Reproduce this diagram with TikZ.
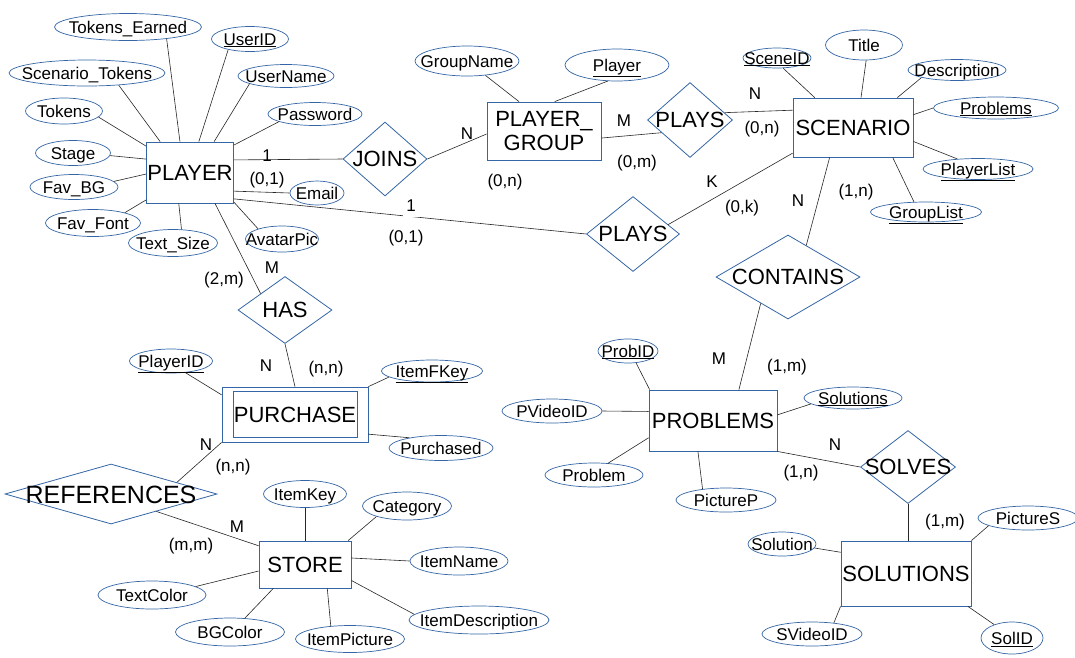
\documentclass[tikz,border=0pt]{standalone}
\usepackage{fontspec}
\setmainfont{Liberation Sans}
\usetikzlibrary{shapes.geometric}
\definecolor{bl}{RGB}{52,101,164}
\newcommand{\zt}[1]{\makebox[0pt]{\raisebox{-0.36em}[0pt][0pt]{#1}}}
\tikzset{
  ent/.style={rectangle, draw=bl, line width=0.8pt, inner sep=0pt, align=center, font=\fontsize{22}{24}\selectfont},
  rel/.style={diamond, draw=bl, line width=0.8pt, inner sep=0pt, font=\fontsize{22}{24}\selectfont},
  attr/.style={ellipse, draw=bl, line width=0.7pt, inner sep=0pt, font=\fontsize{17}{19}\selectfont},
  lab/.style={inner sep=0.5pt, font=\fontsize{17}{19}\selectfont},
  conn/.style={draw=black!85, line width=0.6pt}
}
\begin{document}
\begin{tikzpicture}[x=1pt,y=-1pt]
\useasboundingbox (0,0) rectangle (1075,657);
% ---------- entities ----------
\node[ent, minimum width=87, minimum height=61] (player) at (190,172.5) {PLAYER};
\node[ent, minimum width=114, minimum height=58] (pg) at (544,131) {PLAYER\_\\GROUP};
\node[ent, minimum width=120, minimum height=59] (scen) at (853,127.5) {SCENARIO};
\node[ent, minimum width=128, minimum height=61] (prob) at (713,420.5) {PROBLEMS};
\node[ent, minimum width=130, minimum height=65] (sol) at (906,573.5) {SOLUTIONS};
\node[ent, minimum width=146, minimum height=55] (pur) at (295,414.5) {};
\node[ent, minimum width=124, minimum height=46] (purin) at (295,414.5) {PURCHASE};
\node[ent, minimum width=92, minimum height=47] (store) at (305,564.5) {STORE};
% ---------- relationships ----------
\node[rel, minimum width=84, minimum height=74] (joins) at (385,159) {\zt{JOINS}};
\node[rel, minimum width=85, minimum height=75] (plays1) at (690,120) {\zt{PLAYS}};
\node[rel, minimum width=93, minimum height=75] (plays2) at (633,234) {\zt{PLAYS}};
\node[rel, minimum width=144, minimum height=84] (contains) at (788,277) {\zt{CONTAINS}};
\node[rel, minimum width=95, minimum height=73] (solves) at (908,467) {\zt{SOLVES}};
\node[rel, minimum width=94, minimum height=67] (has) at (285,310) {\zt{HAS}};
\node[rel, minimum width=212, minimum height=60, font=\fontsize{25}{27}\selectfont] (refs) at (111,494) {\zt{REFERENCES}};
% ---------- PLAYER attributes ----------
\node[attr, minimum width=147, minimum height=27] (te) at (128,27) {\zt{Tokens\_Earned}};
\node[attr, minimum width=77, minimum height=25] (uid) at (250,39) {\zt{\underline{UserID}}};
\node[attr, minimum width=156, minimum height=26] (st) at (87,73) {\zt{Scenario\_Tokens}};
\node[attr, minimum width=96, minimum height=23] (un) at (286,76) {\zt{UserName}};
\node[attr, minimum width=77, minimum height=26] (tok) at (64,111) {\zt{Tokens}};
\node[attr, minimum width=94, minimum height=23] (pw) at (315,114) {\zt{Password}};
\node[attr, minimum width=75, minimum height=25] (stage) at (73,153) {\zt{Stage}};
\node[attr, minimum width=88, minimum height=25] (fbg) at (74,187) {\zt{Fav\_BG}};
\node[attr, minimum width=95, minimum height=27] (ff) at (93,223) {\zt{Fav\_Font}};
\node[attr, minimum width=89, minimum height=27] (ts) at (173,243) {\zt{Text\_Size}};
\node[attr, minimum width=54, minimum height=24] (email) at (317,193) {\zt{Email}};
\node[attr, minimum width=73, minimum height=26] (ap) at (282,239) {\zt{AvatarPic}};
\draw[conn] (te.-17) -- (player.108);
\draw[conn] (uid.206) -- (player.74);
\draw[conn] (st.-21) -- (player.134);
\draw[conn] (un.192) -- (player.52);
\draw[conn] (tok.-10) -- (player.149);
\draw[conn] (pw.192) -- (player.32);
\draw[conn] (stage.-4) -- (player.163);
\draw[conn] (fbg.8) -- (player.182);
\draw[conn] (ff.18) -- (player.212);
\draw[conn] (ts.58) -- (player.250);
\draw[conn] (player.-23) -- (email.west);
\draw[conn] (ap.157) -- (player.-34);
% ---------- PLAYER_GROUP attributes ----------
\node[attr, minimum width=104, minimum height=30] (gn) at (467,61) {\zt{GroupName}};
\node[attr, minimum width=104, minimum height=32] (pl) at (617,65) {\zt{\underline{Player}}};
\draw[conn] (gn) -- (pg.north west -| 519,0);
\draw[conn] (pl.240) -- (pg.70);
% ---------- SCENARIO attributes ----------
\node[attr, minimum width=68, minimum height=20] (sid) at (777,58) {\zt{\underline{SceneID}}};
\node[attr, minimum width=77, minimum height=30] (title) at (864,45) {\zt{Title}};
\node[attr, minimum width=98, minimum height=21] (desc) at (957,70) {\zt{Description}};
\node[attr, minimum width=125, minimum height=22] (probs) at (996,108) {\zt{\underline{Problems}}};
\node[attr, minimum width=110, minimum height=21] (plist) at (978,169) {\zt{\underline{PlayerList}}};
\node[attr, minimum width=111, minimum height=20] (glist) at (926,212) {\zt{\underline{GroupList}}};
\draw[conn] (sid.-59) -- (scen.142);
\draw[conn] (title.-82) -- (scen.75);
\draw[conn] (desc.192) -- (scen.34);
\draw[conn] (probs.west) -- (scen.12);
\draw[conn] (plist.154) -- (scen.-13);
\draw[conn] (glist.140) -- (scen.-37);
% ---------- PROBLEMS attributes ----------
\node[attr, minimum width=60, minimum height=24] (pid) at (628,351) {\zt{\underline{ProbID}}};
\node[attr, minimum width=100, minimum height=24] (pvid) at (552,411) {\zt{PVideoID}};
\node[attr, minimum width=98, minimum height=24] (problem) at (594,475) {\zt{Problem}};
\node[attr, minimum width=100, minimum height=24] (picp) at (726,500) {\zt{PictureP}};
\node[attr, minimum width=98, minimum height=22] (sols) at (853,398) {\zt{\underline{Solutions}}};
\draw[conn] (pid.-56) -- (prob.154);
\draw[conn] (pvid.east) -- (prob.172);
\draw[conn] (problem.40) -- (prob.195);
\draw[conn] (picp.155) -- (prob.244);
\draw[conn] (sols.188) -- (prob.5);
% ---------- SOLUTIONS attributes ----------
\node[attr, minimum width=100, minimum height=24] (pics) at (1028,518) {\zt{PictureS}};
\node[attr, minimum width=68, minimum height=24] (solution) at (782,544) {\zt{Solution}};
\node[attr, minimum width=100, minimum height=24] (svid) at (812,634) {\zt{SVideoID}};
\node[attr, minimum width=62, minimum height=32] (solid) at (1012,638) {\zt{\underline{SolID}}};
\draw[conn] (pics.191) -- (sol.north east);
\draw[conn] (solution.-7) -- (sol.162);
\draw[conn] (svid.27) -- (sol.south west);
\draw[conn] (solid.143) -- (sol.-28);
% ---------- PURCHASE attributes ----------
\node[attr, minimum width=83, minimum height=24] (plid) at (171,361) {\zt{\underline{PlayerID}}};
\node[attr, minimum width=101, minimum height=22] (ifk) at (432,371) {\zt{\underline{ItemFKey}}};
\node[attr, minimum width=104, minimum height=25] (purd) at (441,448) {\zt{Purchased}};
\draw[conn] (plid.-39) -- (pur.165);
\draw[conn] (ifk.188) -- (pur.north east);
\draw[conn] (purd.162) -- (pur.-15);
% ---------- STORE attributes ----------
\node[attr, minimum width=83, minimum height=27] (ik) at (305,494) {\zt{ItemKey}};
\node[attr, minimum width=89, minimum height=28] (cat) at (407,506) {\zt{Category}};
\node[attr, minimum width=98, minimum height=28] (iname) at (459,561) {\zt{ItemName}};
\node[attr, minimum width=140, minimum height=28] (idesc) at (479,620) {\zt{ItemDescription}};
\node[attr, minimum width=109, minimum height=27] (ipic) at (350,639) {\zt{ItemPicture}};
\node[attr, minimum width=109, minimum height=28] (bgc) at (230,632) {\zt{BGColor}};
\node[attr, minimum width=108, minimum height=28] (tc) at (152,595) {\zt{TextColor}};
\draw[conn] (ik) -- (store);
\draw[conn] (cat.199) -- (store.29);
\draw[conn] (iname.west) -- (store.8);
\draw[conn] (idesc.175) -- (store.-19);
\draw[conn] (ipic.146) -- (store.-47);
\draw[conn] (bgc.43) -- (store.217);
\draw[conn] (tc.11) -- (store.188);
% ---------- relationship connectors ----------
\draw[conn] (player.16) -- (joins.west);
\draw[conn] (joins.east) -- (pg.183);
\draw[conn] (pg.-7) -- (plays1.204);
\draw[conn] (plays1.12) -- (scen.164);
\draw[conn] (player.-31) -- (plays2.west);
\draw[conn] (plays2.15) -- (scen.203);
\draw[conn] (scen.232) -- (contains.60);
\draw[conn] (contains.224) -- (prob.50);
\draw[conn] (prob.south east) -- (solves.west);
\draw[conn] (solves.south) -- (solves.south |- sol.north);
\draw[conn] (player.-51) -- (has.146);
\draw[conn] (has.south) -- (pur.north);
\draw[conn] (pur.south west) -- (refs.10);
\draw[conn] (refs.-21) -- (store.158);
% ---------- cardinality labels ----------
\node[lab] (l1) at (267,156) {1};
\node[lab] (l2) at (267,180) {(0,1)};
\node[lab] (l3) at (467,134) {N};
\node[lab] (l4) at (505,182) {(0,n)};
\node[lab] (l5) at (624,121) {M};
\node[lab] (l6) at (637,163) {(0,m)};
\node[lab] (l7) at (755,94) {N};
\node[lab] (l8) at (762,129) {(0,n)};
\node[lab, fill=white, inner sep=3pt, minimum height=21] (l9) at (411,206) {1};
\node[lab] (l10) at (406,238) {(0,1)};
\node[lab] (l11) at (712,182) {K};
\node[lab] (l12) at (742,208) {(0,k)};
\node[lab] (l13) at (798,201) {N};
\node[lab] (l14) at (856,192) {(1,n)};
\node[lab] (l15) at (719,359) {M};
\node[lab] (l16) at (787,367) {(1,m)};
\node[lab] (l17) at (835,445) {N};
\node[lab] (l18) at (801,473) {(1,n)};
\node[lab] (l19) at (945,522) {(1,m)};
\node[lab] (l20) at (272,268) {M};
\node[lab] (l21) at (224,280) {(2,m)};
\node[lab] (l22) at (266,366) {N};
\node[lab] (l23) at (326,369) {(n,n)};
\node[lab] (l24) at (206,445) {N};
\node[lab] (l25) at (233,467) {(n,n)};
\node[lab] (l26) at (237,527) {M};
\node[lab] (l27) at (191,546) {(m,m)};
\end{tikzpicture}
\end{document}
